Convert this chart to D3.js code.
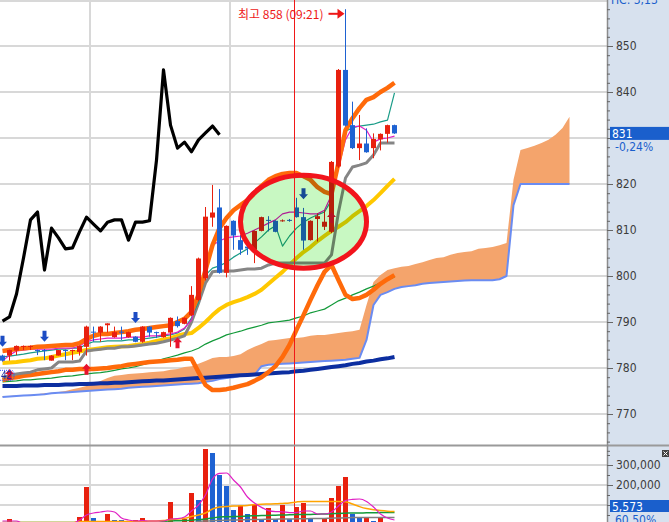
<!DOCTYPE html>
<html>
<head>
<meta charset="utf-8">
<script src="https://cdn.jsdelivr.net/npm/d3@7/dist/d3.min.js"></script>
<style>
  body { margin: 0; background: #fff; overflow: hidden; }
  svg { display: block; }
  .axis text { font-family: "Liberation Sans Narrow", "DejaVu Sans Condensed", "Liberation Sans", sans-serif; font-size: 12px; fill: #3c3c3c; }
  .axis line { stroke: #666; }
  .axis path { display: none; }
</style>
</head>
<body>
<script>
// ---------------------------------------------------------------- data
var candleOpen = [782.7, 782.7, 783.8, 784.6, 784.6, 783.9, 783.9, 781.6, 782.7, 783.9,
  783.7, 783.5, 784.6, 787.9, 787.7, 789.3, 786.7, 787.9, 786.7, 786.8,
  785.7, 789.0, 787.8, 786.7, 787.7, 790.2, 789.6, 791.5, 794.8, 799.5,
  812.7, 814.9, 800.7, 812.0, 807.8, 806.4, 805.7, 809.8, 812.2, 812.0,
  812.0, 812.2, 814.9, 812.8, 807.8, 812.4, 810.7, 809.6, 823.8, 844.8,
  832.8, 827.8, 828.8, 827.8, 829.7, 830.9, 832.8];
var candleHigh = [782.9, 784.0, 784.9, 784.9, 784.9, 784.0, 784.1, 782.8, 783.9, 784.0,
  784.0, 784.9, 789.2, 789.0, 789.1, 789.7, 789.0, 789.0, 787.9, 786.9,
  789.1, 789.1, 787.9, 787.9, 791.0, 791.2, 791.0, 797.8, 804.0, 815.0,
  819.8, 818.9, 811.0, 812.1, 808.9, 806.5, 809.9, 812.9, 813.0, 812.1,
  812.3, 812.4, 817.0, 814.8, 812.1, 813.6, 814.3, 825.0, 845.0, 858.0,
  837.9, 835.0, 832.1, 831.0, 831.0, 832.9, 832.9];
var candleLow = [781.4, 781.6, 782.8, 783.9, 783.9, 782.8, 781.7, 781.6, 782.7, 781.7,
  781.7, 782.7, 782.7, 785.7, 785.7, 787.7, 786.6, 786.1, 786.6, 785.6,
  785.5, 786.8, 786.5, 786.6, 784.6, 788.8, 789.5, 791.3, 794.5, 799.0,
  810.7, 800.5, 799.7, 805.7, 804.6, 804.6, 802.8, 809.7, 809.7, 809.5,
  811.8, 811.8, 812.7, 805.7, 807.7, 807.5, 810.0, 809.3, 823.5, 832.5,
  827.6, 825.2, 826.8, 825.6, 827.3, 829.0, 830.9];
var candleClose = [781.6, 783.9, 784.8, 784.8, 784.8, 783.7, 783.7, 782.7, 783.9, 783.7,
  783.9, 784.8, 789.0, 787.7, 789.0, 789.7, 787.8, 787.7, 787.8, 785.7,
  789.0, 787.7, 787.6, 787.8, 790.9, 789.1, 790.9, 795.9, 803.8, 812.9,
  813.8, 800.7, 810.9, 808.8, 805.7, 806.0, 809.8, 812.8, 812.0, 809.6,
  812.1, 812.0, 812.8, 807.7, 812.0, 813.0, 811.8, 824.8, 844.8, 832.7,
  827.8, 828.8, 826.9, 829.8, 830.9, 832.8, 831.0];

var lagSpan = [790.2, 791.1, 796.1, 803.9, 812.2, 813.9, 801.3, 810.4, 808.3, 805.9,
  806.1, 809.6, 812.8, 811.3, 809.8, 811.7, 812.2, 812.2, 807.8, 811.7,
  811.7, 812.0, 825.2, 844.8, 832.8, 827.8, 829.1, 827.0, 829.6, 831.1,
  832.6, 830.7];

var upperBand = [783.7, 783.9, 784.1, 784.3, 784.4, 784.6, 784.7, 784.8, 784.9, 785.0,
  785.0, 785.4, 786.3, 787.0, 787.4, 787.4, 787.6, 787.8, 788.0, 788.3,
  788.5, 788.7, 788.9, 789.1, 789.3, 790.0, 790.7, 792.2, 795.9, 801.3,
  806.7, 810.4, 812.6, 814.3, 815.4, 816.5, 818.0, 819.6, 820.9, 821.7,
  822.2, 822.4, 822.4, 821.7, 820.9, 819.3, 818.3, 817.8, 824.6, 831.7,
  834.3, 836.5, 838.3, 838.9, 840.0, 840.9, 842.0];
var tenkanLine = [782.4, 782.6, 782.8, 783.0, 783.3, 783.5, 783.7, 783.9, 784.1, 784.1,
  784.3, 784.3, 785.2, 785.7, 785.7, 785.9, 785.9, 785.9, 786.1, 786.1,
  786.3, 786.5, 786.7, 787.0, 787.2, 787.6, 788.5, 790.9, 794.3, 800.2,
  801.7, 802.2, 803.0, 804.1, 805.0, 805.9, 807.2, 808.5, 810.0, 810.9,
  806.5, 808.7, 810.4, 811.7, 812.6, 813.3, 813.9, 816.5, 825.2, 831.5,
  832.2, 832.6, 832.8, 833.0, 833.5, 833.9, 839.8];
var magentaLine = [781.5, 782.8, 783.7, 783.9, 784.1, 784.1, 784.1, 784.1, 784.3, 784.3,
  784.3, 784.8, 785.7, 786.1, 786.3, 786.5, 786.5, 786.5, 786.7, 786.7,
  786.7, 787.0, 787.0, 787.2, 787.4, 787.8, 788.7, 790.4, 795.9, 801.3,
  806.7, 807.6, 808.3, 808.5, 808.7, 809.3, 810.0, 810.7, 811.5, 812.2,
  813.5, 813.9, 813.9, 813.7, 813.5, 813.5, 814.3, 817.6, 823.5, 829.6,
  832.4, 832.6, 831.7, 829.1, 829.8, 830.0, 830.4];
var kijunLine = [778.0, 778.3, 778.7, 778.9, 779.1, 779.6, 779.8, 780.0, 781.3, 781.3,
  781.3, 781.5, 783.7, 783.9, 784.1, 784.3, 784.3, 784.6, 784.6, 784.8,
  785.0, 785.2, 785.4, 785.7, 786.1, 786.5, 787.0, 790.0, 794.1, 798.5,
  800.9, 801.1, 801.1, 801.1, 801.3, 801.5, 801.5, 801.7, 802.4, 802.8,
  802.8, 802.8, 802.8, 802.8, 802.8, 802.8, 802.8, 804.6, 813.9, 821.3,
  823.7, 824.1, 824.6, 826.3, 828.9, 828.9, 828.9];
var yellowLine = [781.1, 781.2, 781.3, 781.5, 781.7, 782.0, 782.1, 782.4, 782.7, 783.0,
  783.3, 783.6, 783.9, 784.1, 784.3, 784.5, 784.6, 784.7, 784.8, 785.0,
  785.2, 785.5, 785.9, 786.2, 786.5, 787.0, 787.4, 787.6, 788.7, 790.0,
  791.5, 792.8, 793.7, 794.3, 794.8, 795.4, 796.1, 797.0, 798.3, 799.6,
  800.9, 802.4, 803.9, 805.2, 806.3, 807.6, 808.7, 809.8, 810.7, 811.7,
  813.0, 814.1, 815.2, 816.5, 818.0, 819.6, 821.1];
var greenLine = [777.0, 777.1, 777.2, 777.4, 777.4, 777.6, 777.7, 777.8, 778.0, 778.2,
  778.3, 778.5, 778.7, 778.9, 779.0, 779.2, 779.5, 779.8, 780.0, 780.3,
  780.7, 781.1, 781.5, 782.0, 782.4, 782.8, 783.3, 783.7, 784.3, 785.2,
  785.9, 786.5, 787.2, 787.6, 788.0, 788.5, 788.9, 789.3, 789.8, 790.0,
  790.2, 790.4, 790.9, 791.3, 792.0, 792.4, 792.8, 793.7, 794.6, 795.2,
  795.9, 796.5, 797.2, 797.8, 798.5, 799.1, 799.8];
var lowerOrange = [777.4, 777.8, 778.0, 778.3, 778.5, 778.7, 778.9, 779.1, 779.3, 779.6,
  779.6, 779.8, 779.8, 779.8, 779.9, 780.0, 780.2, 780.4, 780.7, 780.9,
  781.1, 781.3, 781.4, 781.5, 781.7, 781.8, 782.0, 782.0, 779.1, 776.3,
  775.2, 775.2, 775.4, 775.7, 776.1, 776.5, 777.2, 778.0, 779.1, 780.4,
  782.4, 785.0, 788.3, 791.5, 794.8, 798.0, 800.9, 802.4, 799.1, 795.9,
  795.0, 795.2, 795.9, 797.0, 798.3, 799.3, 800.2];
var navyLine = [776.1, 776.1, 776.1, 776.2, 776.2, 776.2, 776.3, 776.3, 776.3, 776.4,
  776.4, 776.5, 776.5, 776.6, 776.7, 776.7, 776.8, 776.8, 776.9, 777.0,
  777.1, 777.2, 777.3, 777.3, 777.4, 777.5, 777.6, 777.7, 777.8, 777.9,
  778.0, 778.1, 778.2, 778.3, 778.4, 778.5, 778.6, 778.7, 778.8, 778.9,
  779.0, 779.1, 779.3, 779.4, 779.6, 779.8, 780.0, 780.2, 780.4, 780.6,
  780.9, 781.1, 781.4, 781.6, 781.9, 782.1, 782.4];

var cloudA = [773.9, 773.9, 774.0, 774.1, 774.2, 774.3, 774.5, 774.6, 774.8, 775.0,
  775.4, 775.7, 776.1, 776.5, 777.2, 777.8, 778.3, 778.5, 778.7, 778.8,
  778.9, 779.1, 779.2, 779.3, 779.6, 779.8, 780.2, 780.4, 780.9, 781.5,
  782.2, 782.4, 782.4, 782.6, 783.0, 783.9, 784.6, 785.2, 785.9, 786.1,
  786.3, 786.5, 786.5, 786.7, 787.0, 787.2, 787.2, 787.4, 787.6, 787.8,
  788.0, 788.3, 793.7, 798.7, 800.2, 801.3, 801.7, 802.0, 802.2, 802.6,
  803.0, 803.5, 803.9, 804.1, 804.6, 805.0, 805.2, 805.4, 805.9, 806.1,
  806.3, 806.7, 807.2, 820.9, 827.4, 827.8, 828.3, 828.9, 829.6, 830.7,
  832.2, 834.6];
var cloudB = [773.7, 773.8, 773.9, 774.0, 774.1, 774.2, 774.3, 774.5, 774.6, 774.7,
  774.8, 774.9, 775.0, 775.1, 775.2, 775.3, 775.4, 775.5, 775.7, 775.8,
  775.9, 776.0, 776.1, 776.2, 776.3, 776.4, 776.5, 776.6, 776.7, 777.0,
  777.2, 777.6, 777.8, 778.0, 778.3, 778.4, 778.5, 780.4, 780.7, 780.8,
  780.9, 781.0, 781.1, 781.2, 781.3, 781.4, 781.5, 781.6, 781.7, 781.8,
  782.0, 782.2, 786.1, 793.7, 795.9, 796.5, 797.2, 797.6, 797.8, 798.0,
  798.3, 798.5, 798.6, 798.7, 798.8, 798.9, 799.0, 799.1, 799.1, 799.1,
  799.1, 799.3, 800.0, 815.4, 820.0, 820.0, 820.0, 820.0, 820.0, 820.0,
  820.0, 820.0];

var volume = [6000, 30000, 6000, 5000, 5000, 5000, 6000, 5000, 6000, 5000,
  6000, 40000, 190000, 35000, 8000, 55000, 25000, 25000, 8000, 25000,
  35000, 8000, 6000, 8000, 115000, 10000, 30000, 160000, 125000, 380000,
  360000, 250000, 195000, 75000, 97000, 55000, 100000, 30000, 85000, 30000,
  100000, 30000, 90000, 110000, 35000, 12000, 35000, 135000, 195000, 240000,
  55000, 35000, 35000, 20000, 35000, 12000, 5573];
var volumeUp = [0, 1, 1, 1, 1, 0, 0, 1, 1, 0,
  1, 1, 1, 0, 1, 1, 0, 0, 1, 1,
  1, 0, 0, 1, 1, 0, 1, 1, 0, 1,
  0, 0, 0, 0, 1, 0, 1, 0, 1, 0,
  1, 0, 1, 1, 0, 0, 1, 1, 1, 1,
  0, 0, 1, 0, 1, 0, 0];
var volMaMagenta = [20000, 20000, 20000, 8000, 8000, 8000, 8000, 8000, 8000, 8000,
  8000, 25000, 50000, 60000, 65000, 70000, 65000, 35000, 25000, 20000,
  22000, 20000, 20000, 20000, 30000, 32000, 40000, 70000, 100000, 150000,
  230000, 258000, 260000, 225000, 190000, 140000, 110000, 88000, 72000, 67000,
  66000, 62000, 62000, 70000, 70000, 55000, 55000, 65000, 95000, 122000,
  128000, 130000, 118000, 90000, 55000, 35000, 25000];
var volMaOrange = [12000, 12000, 12000, 12000, 12000, 12000, 12000, 12000, 12000, 12000,
  12000, 18000, 18000, 18000, 18000, 18000, 18000, 18000, 18000, 18000,
  18000, 20000, 20000, 22000, 28000, 30000, 34000, 42000, 50000, 60000,
  80000, 90000, 92000, 95000, 96000, 98000, 102000, 104000, 105000, 106000,
  108000, 110000, 115000, 118000, 118000, 118000, 118000, 118000, 118000, 116000,
  105000, 92000, 82000, 76000, 72000, 69000, 67000];
var volMaGreen = [12000, 12000, 12000, 12000, 12000, 12000, 12000, 12000, 12000, 12000,
  12000, 12000, 12000, 12000, 12000, 12000, 12000, 12000, 12000, 12000,
  12000, 12000, 12000, 18000, 20000, 21000, 22000, 24000, 27000, 30000,
  35000, 40000, 41000, 42000, 43000, 45000, 46000, 47000, 48000, 49000,
  50000, 51000, 52000, 52000, 53000, 54000, 55000, 56000, 58000, 59000,
  60000, 60000, 61000, 61000, 62000, 62000, 63000];
var volMaGray = [10000, 10000, 10000, 10000, 10000, 10000, 10000, 10000, 10000, 10000,
  10000, 10000, 10000, 10000, 10000, 10000, 10000, 10000, 10000, 10000,
  10000, 10000, 10000, 10000, 10000, 10000, 10000, 10000, 18000, 20000,
  21000, 23000, 24000, 25000, 26000, 27000, 28000, 28000, 29000, 29000,
  30000, 30000, 31000, 31000, 32000, 32000, 33000, 34000, 35000, 36000,
  37000, 37000, 37000, 38000, 38000, 38000, 38000];

var priceGrid = [770, 780, 790, 800, 810, 820, 830, 840, 850];
var priceLabels = [770, 780, 790, 800, 810, 820, 840, 850];
var volumeTicks = [100000, 200000, 300000];
var timeGrid = [12.5, 32.5];
var markerIndex = 41.64;
var arrowsDown = [{i: 0, v: 784.6}, {i: 6, v: 785.7}, {i: 19, v: 789.8}, {i: 43, v: 816.7}];
var arrowsUp = [{i: 1, v: 779.8}, {i: 12, v: 780.9}, {i: 25, v: 786.7}, {i: 47, v: 813.9}];
var highMark = {i: 49, v: 857, text: "최고 858 (09:21)"};
var lastPrice = {v: 831, text: "831", change: "-0,24%"};
var lastVolume = {text: "5,573", ratio: "60,50%"};
var focusEllipse = {i: 43, v: 811.8, di: 9, dv: 10.1};

// ---------------------------------------------------------------- layout
var svgW = 669, svgH = 522;
var plotRight = 607;
var mainBottom = 445;
var colRed = "#e8200e", colBlue = "#1e62d2";

var x = d3.scaleLinear().domain([0, 86]).range([2.5, 604.5]);
var y = d3.scaleLinear().domain([770, 850]).range([414, 46]);
var yVol = d3.scaleLinear().domain([0, 300000]).range([525, 465]);

var svg = d3.select("body").append("svg")
  .attr("width", svgW)
  .attr("height", svgH);

var defs = svg.append("defs");
defs.append("clipPath").attr("id", "clipMain").append("rect")
  .attr("x", 0).attr("y", 0).attr("width", plotRight).attr("height", mainBottom);
defs.append("clipPath").attr("id", "clipVol").append("rect")
  .attr("x", 0).attr("y", mainBottom + 2).attr("width", plotRight).attr("height", svgH - mainBottom);

svg.append("rect").attr("width", svgW).attr("height", svgH).attr("fill", "#fff");
svg.append("rect")
  .attr("x", plotRight).attr("y", 0)
  .attr("width", svgW - plotRight).attr("height", svgH)
  .attr("fill", "#d7e1ee");

// ---------------------------------------------------------------- grid
var grid = svg.append("g").attr("stroke", "#d8d8d8").attr("stroke-width", 2);
grid.selectAll(".hg").data(priceGrid).enter().append("line")
  .attr("x1", 0).attr("x2", plotRight)
  .attr("y1", function (d) { return y(d); })
  .attr("y2", function (d) { return y(d); });
grid.append("line").attr("x1", 0).attr("x2", plotRight).attr("y1", 1).attr("y2", 1);
grid.selectAll(".vg").data(volumeTicks).enter().append("line")
  .attr("x1", 0).attr("x2", plotRight)
  .attr("y1", function (d) { return yVol(d); })
  .attr("y2", function (d) { return yVol(d); });
grid.selectAll(".tg").data(timeGrid).enter().append("line")
  .attr("x1", function (d) { return Math.round(x(d)); })
  .attr("x2", function (d) { return Math.round(x(d)); })
  .attr("y1", 0).attr("y2", svgH);

// ---------------------------------------------------------------- price panel
var main = svg.append("g").attr("clip-path", "url(#clipMain)");

var cloudRows = cloudA.map(function (a, i) { return {a: a, b: cloudB[i]}; });
main.append("path")
  .datum(cloudRows)
  .attr("fill", "#f4a46c")
  .attr("d", d3.area()
    .x(function (d, i) { return x(i); })
    .y0(function (d) { return y(d.b); })
    .y1(function (d) { return y(d.a); }));

function drawLine(values, color, width) {
  main.append("path")
    .datum(values)
    .attr("fill", "none")
    .attr("stroke", color)
    .attr("stroke-width", width)
    .attr("stroke-linejoin", "round")
    .attr("d", d3.line()
      .x(function (d, i) { return x(i); })
      .y(function (d) { return y(d); }));
}

drawLine(cloudB, "#6a8cf2", 2);
drawLine(navyLine, "#0c2ea0", 4);
drawLine(greenLine, "#139a3a", 1.2);
drawLine(lowerOrange, "#ff6a0a", 4.5);
drawLine(yellowLine, "#ffc800", 4);
drawLine(kijunLine, "#858585", 3);
drawLine(tenkanLine, "#1a9c88", 1.2);
drawLine(magentaLine, "#e020c4", 1.2);
drawLine(upperBand, "#ff6a0a", 4.5);

var candles = candleOpen.map(function (o, i) {
  return {i: i, o: o, h: candleHigh[i], l: candleLow[i], c: candleClose[i]};
});
main.selectAll(".wick").data(candles).enter().append("line")
  .attr("x1", function (d) { return x(d.i); })
  .attr("x2", function (d) { return x(d.i); })
  .attr("y1", function (d) { return y(d.h); })
  .attr("y2", function (d) { return y(d.l); })
  .attr("stroke", function (d) { return d.c >= d.o ? colRed : colBlue; })
  .attr("stroke-width", 1);
main.selectAll(".body").data(candles).enter().append("rect")
  .attr("x", function (d) { return x(d.i) - 2.5; })
  .attr("width", 5)
  .attr("y", function (d) { return y(Math.max(d.o, d.c)); })
  .attr("height", function (d) { return Math.max(1, Math.abs(y(d.o) - y(d.c))); })
  .attr("fill", function (d) { return d.c >= d.o ? colRed : colBlue; });

drawLine(lagSpan, "#000", 3.2);

// signal arrows
main.selectAll(".adown").data(arrowsDown).enter().append("path")
  .attr("transform", function (d) { return "translate(" + x(d.i) + "," + y(d.v) + ")"; })
  .attr("d", "M0,0L-4.5,-5L-2,-5L-2,-11L2,-11L2,-5L4.5,-5Z")
  .attr("fill", "#1c4cc4");
main.selectAll(".aup").data(arrowsUp).enter().append("path")
  .attr("transform", function (d) { return "translate(" + x(d.i) + "," + y(d.v) + ")"; })
  .attr("d", "M0,0L-4.5,5L-2,5L-2,11L2,11L2,5L4.5,5Z")
  .attr("fill", "#e8122c");

// small count label on the left edge
main.append("rect")
  .attr("x", -3).attr("y", y(779.5)).attr("width", 17).attr("height", 10)
  .attr("rx", 3)
  .attr("fill", "none").attr("stroke", "#2a4cff").attr("stroke-dasharray", "1,1");
main.append("text")
  .attr("x", 1).attr("y", y(779.5) + 8.5)
  .attr("font-family", "Liberation Sans Narrow, Liberation Sans, sans-serif")
  .attr("font-size", "10px").attr("fill", "#1c2c9c")
  .text("42");

// marker line
svg.append("line")
  .attr("x1", Math.round(x(markerIndex)) + 0.5)
  .attr("x2", Math.round(x(markerIndex)) + 0.5)
  .attr("y1", 0).attr("y2", svgH)
  .attr("stroke", "#f01818").attr("stroke-width", 1);

// focus ellipse
var ex = x(focusEllipse.i), ey = y(focusEllipse.v);
var erx = x(focusEllipse.di) - x(0), ery = y(focusEllipse.v - focusEllipse.dv) - ey;
main.append("ellipse")
  .attr("cx", ex).attr("cy", ey).attr("rx", erx).attr("ry", ery)
  .attr("fill", "#c8f8c2")
  .style("mix-blend-mode", "multiply");
main.append("ellipse")
  .attr("cx", ex).attr("cy", ey).attr("rx", erx).attr("ry", ery)
  .attr("fill", "none")
  .attr("stroke", "#f2141c").attr("stroke-width", 5);

// high label
var hx = x(highMark.i), hy = y(highMark.v);
svg.append("text")
  .attr("x", hx - 22).attr("y", hy + 5)
  .attr("text-anchor", "end")
  .attr("font-family", "Noto Sans CJK KR, sans-serif")
  .attr("font-size", "12px")
  .attr("fill", "#ee1818")
  .text(highMark.text);
svg.append("line")
  .attr("x1", hx - 17).attr("x2", hx - 6).attr("y1", hy).attr("y2", hy)
  .attr("stroke", "#ee1818").attr("stroke-width", 2);
svg.append("path")
  .attr("d", "M" + (hx - 1) + "," + hy + "L" + (hx - 8) + "," + (hy - 5) + "L" + (hx - 8) + "," + (hy + 5) + "Z")
  .attr("fill", "#ee1818");

// ---------------------------------------------------------------- volume panel
var vol = svg.append("g").attr("clip-path", "url(#clipVol)");
vol.selectAll(".vbar").data(volume).enter().append("rect")
  .attr("x", function (d, i) { return x(i) - 2.5; })
  .attr("width", 5)
  .attr("y", function (d) { return yVol(d); })
  .attr("height", function (d) { return yVol(0) - yVol(d); })
  .attr("fill", function (d, i) { return volumeUp[i] ? colRed : colBlue; });

function drawVolLine(values, color, width) {
  vol.append("path")
    .datum(values)
    .attr("fill", "none")
    .attr("stroke", color)
    .attr("stroke-width", width)
    .attr("d", d3.line()
      .x(function (d, i) { return x(i); })
      .y(function (d) { return yVol(d); })
      .curve(d3.curveMonotoneX));
}
drawVolLine(volMaGray, "#808080", 1.5);
drawVolLine(volMaGreen, "#139a3a", 1.5);
drawVolLine(volMaOrange, "#ffa400", 1.5);
drawVolLine(volMaMagenta, "#e020c4", 1.2);

// panel separator
svg.append("line")
  .attr("x1", 0).attr("x2", svgW)
  .attr("y1", mainBottom + 0.5).attr("y2", mainBottom + 0.5)
  .attr("stroke", "#9a9a9a").attr("stroke-width", 2);

// ---------------------------------------------------------------- axes
svg.append("line")
  .attr("x1", plotRight + 0.5).attr("x2", plotRight + 0.5)
  .attr("y1", 0).attr("y2", svgH)
  .attr("stroke", "#8c8c8c").attr("stroke-width", 1.5);

svg.append("g")
  .attr("class", "axis")
  .attr("transform", "translate(" + plotRight + ",0)")
  .call(d3.axisRight(y).tickValues(d3.range(762, 860, 2)).tickSize(3).tickFormat(""));
svg.append("g")
  .attr("class", "axis")
  .attr("transform", "translate(" + plotRight + ",0)")
  .call(d3.axisRight(y).tickValues(priceLabels).tickSize(6).tickPadding(3).tickFormat(d3.format("d")));

svg.append("g")
  .attr("class", "axis")
  .attr("transform", "translate(" + plotRight + ",0)")
  .call(d3.axisRight(yVol).tickValues([50000, 150000, 250000, 350000]).tickSize(3).tickFormat(""));
svg.append("g")
  .attr("class", "axis")
  .attr("transform", "translate(" + plotRight + ",0)")
  .call(d3.axisRight(yVol).tickValues(volumeTicks).tickSize(6).tickPadding(3).tickFormat(d3.format(",")));

var labelFont = "Liberation Sans Narrow, DejaVu Sans Condensed, Liberation Sans, sans-serif";

// current price box
svg.append("rect")
  .attr("x", plotRight + 3).attr("y", y(lastPrice.v) - 6.5)
  .attr("width", svgW - plotRight - 3).attr("height", 13)
  .attr("fill", "#1a5fcc");
svg.append("text")
  .attr("x", plotRight + 5).attr("y", y(lastPrice.v) + 4.5)
  .attr("font-family", labelFont).attr("font-size", "12px").attr("fill", "#fff")
  .text(lastPrice.text);
svg.append("text")
  .attr("x", plotRight + 8).attr("y", y(lastPrice.v) + 18)
  .attr("font-family", labelFont).attr("font-size", "12px").attr("fill", "#1a5fcc")
  .text(lastPrice.change);

// header text cut at the top
svg.append("text")
  .attr("x", plotRight + 4).attr("y", 4)
  .attr("font-family", labelFont).attr("font-size", "12px").attr("fill", "#1a5fcc")
  .text("HC: 3,13");

// last volume box
svg.append("rect")
  .attr("x", plotRight + 3).attr("y", 500)
  .attr("width", svgW - plotRight - 3).attr("height", 12)
  .attr("fill", "#1a5fcc");
svg.append("text")
  .attr("x", plotRight + 5).attr("y", 510.5)
  .attr("font-family", labelFont).attr("font-size", "12px").attr("fill", "#fff")
  .text(lastVolume.text);
svg.append("text")
  .attr("x", plotRight + 8).attr("y", 524)
  .attr("font-family", labelFont).attr("font-size", "12px").attr("fill", "#1a5fcc")
  .text(lastVolume.ratio);

// close box of the volume panel
svg.append("rect")
  .attr("x", svgW - 7).attr("y", 450).attr("width", 7).attr("height", 7)
  .attr("fill", "#444");
svg.append("path")
  .attr("d", "M" + (svgW - 5.5) + ",451.5L" + (svgW - 1.5) + ",455.5M" + (svgW - 1.5) + ",451.5L" + (svgW - 5.5) + ",455.5")
  .attr("stroke", "#fff").attr("stroke-width", 1);
</script>
</body>
</html>
